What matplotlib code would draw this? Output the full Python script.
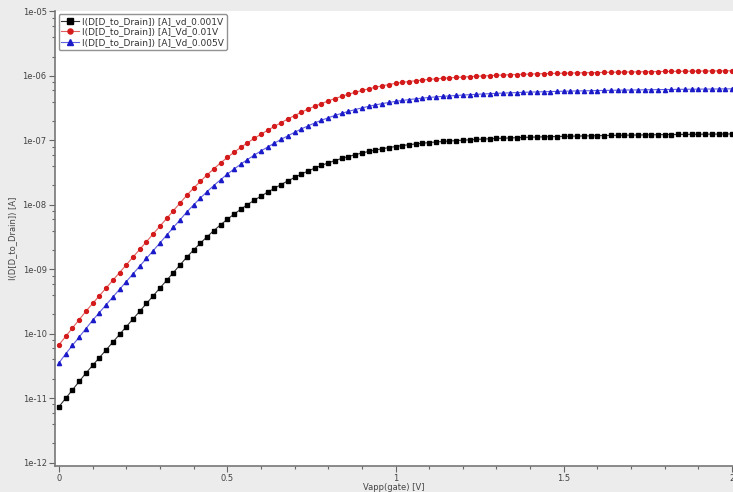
import matplotlib
matplotlib.use("Agg")
import matplotlib.pyplot as plt
import numpy as np
from matplotlib.ticker import LogLocator, MultipleLocator, FixedLocator

# gate sweep 0..2 V, 0.02 V step
vgate = [round(0.02 * i, 2) for i in range(101)]

# log10 of drain current
log_id_vd_0001 = [
    -11.13, -11.00, -10.87, -10.74, -10.61, -10.49, -10.37, -10.25, -10.13, -10.01,
    -9.89, -9.77, -9.65, -9.53, -9.41, -9.29, -9.17, -9.05, -8.93, -8.81,
    -8.70, -8.595, -8.495, -8.40, -8.31, -8.225, -8.145, -8.069, -7.997, -7.929,
    -7.865, -7.803, -7.743, -7.685, -7.629, -7.575, -7.523, -7.475, -7.430, -7.388,
    -7.349, -7.313, -7.280, -7.250, -7.222, -7.196, -7.172, -7.150, -7.130, -7.112,
    -7.095, -7.080, -7.067, -7.055, -7.044, -7.034, -7.025, -7.017, -7.010, -7.003,
    -6.997, -6.991, -6.985, -6.980, -6.975, -6.970, -6.966, -6.962, -6.958, -6.954,
    -6.951, -6.948, -6.945, -6.942, -6.940, -6.937, -6.935, -6.933, -6.931, -6.929,
    -6.927, -6.925, -6.923, -6.921, -6.920, -6.918, -6.917, -6.915, -6.914, -6.912,
    -6.911, -6.910, -6.908, -6.907, -6.906, -6.905, -6.904, -6.903, -6.902, -6.901,
    -6.900,
]
log_id_vd_001 = [
    -10.17, -10.04, -9.91, -9.78, -9.65, -9.53, -9.41, -9.29, -9.17, -9.05,
    -8.93, -8.81, -8.69, -8.57, -8.45, -8.33, -8.21, -8.09, -7.97, -7.85,
    -7.74, -7.635, -7.535, -7.44, -7.35, -7.265, -7.185, -7.109, -7.037, -6.969,
    -6.905, -6.843, -6.783, -6.725, -6.669, -6.615, -6.563, -6.515, -6.470, -6.428,
    -6.389, -6.351, -6.316, -6.284, -6.254, -6.226, -6.200, -6.176, -6.154, -6.134,
    -6.115, -6.100, -6.087, -6.075, -6.064, -6.054, -6.045, -6.037, -6.030, -6.023,
    -6.017, -6.011, -6.005, -6.000, -5.995, -5.990, -5.986, -5.982, -5.978, -5.974,
    -5.971, -5.968, -5.965, -5.962, -5.960, -5.957, -5.955, -5.953, -5.951, -5.949,
    -5.947, -5.945, -5.943, -5.941, -5.940, -5.938, -5.937, -5.935, -5.934, -5.932,
    -5.931, -5.930, -5.928, -5.927, -5.926, -5.925, -5.924, -5.923, -5.922, -5.921,
    -5.920,
]
log_id_vd_0005 = [
    -10.45, -10.31, -10.18, -10.05, -9.92, -9.79, -9.67, -9.55, -9.43, -9.31,
    -9.19, -9.07, -8.95, -8.83, -8.71, -8.59, -8.47, -8.35, -8.23, -8.11,
    -8.00, -7.895, -7.795, -7.70, -7.61, -7.525, -7.445, -7.369, -7.297, -7.229,
    -7.165, -7.103, -7.043, -6.985, -6.929, -6.875, -6.823, -6.775, -6.730, -6.688,
    -6.649, -6.613, -6.580, -6.550, -6.522, -6.496, -6.472, -6.450, -6.430, -6.412,
    -6.395, -6.380, -6.367, -6.355, -6.344, -6.334, -6.325, -6.317, -6.310, -6.303,
    -6.297, -6.291, -6.285, -6.280, -6.275, -6.270, -6.266, -6.262, -6.258, -6.254,
    -6.251, -6.248, -6.245, -6.242, -6.240, -6.237, -6.235, -6.233, -6.231, -6.229,
    -6.227, -6.225, -6.223, -6.221, -6.220, -6.218, -6.217, -6.215, -6.214, -6.212,
    -6.211, -6.210, -6.208, -6.207, -6.206, -6.205, -6.204, -6.203, -6.202, -6.201,
    -6.200,
]

labels = [
    "I(D[D_to_Drain]) [A]_vd_0.001V",
    "I(D[D_to_Drain]) [A]_Vd_0.01V",
    "I(D[D_to_Drain]) [A]_Vd_0.005V",
]
ytick_vals = [1e-12, 1e-11, 1e-10, 1e-09, 1e-08, 1e-07, 1e-06, 1e-05]
ytick_labels = ["1e-12", "1e-11", "1e-10", "1e-09", "1e-08", "1e-07", "1e-06", "1e-05"]
xtick_vals = [0, 0.5, 1, 1.5, 2]
xtick_labels = ["0", "0.5", "1", "1.5", "2"]

txt = "#444444"
fig = plt.figure(figsize=(7.33, 4.92), dpi=100)
fig.patch.set_facecolor("#ececec")
ax = fig.add_axes([0.075, 0.053, 0.925, 0.925])
ax.set_facecolor("white")

ax.plot(vgate, 10 ** np.array(log_id_vd_0001), color="#333333", lw=0.8,
        marker="s", ms=3.3, mfc="black", mec="black", label=labels[0])
ax.plot(vgate, 10 ** np.array(log_id_vd_001), color="#e06060", lw=0.8,
        marker="o", ms=2.8, mfc="#d41a1a", mec="#d41a1a", label=labels[1])
ax.plot(vgate, 10 ** np.array(log_id_vd_0005), color="#6060e0", lw=0.8,
        marker="^", ms=3.0, mfc="#1a1ac8", mec="#1a1ac8", label=labels[2])

ax.set_yscale("log")
ax.set_ylim(10 ** -12.05, 10 ** -4.99)
ax.set_xlim(-0.012, 2.003)

ax.yaxis.set_major_locator(FixedLocator(ytick_vals))
ax.set_yticklabels(ytick_labels)
ax.yaxis.set_minor_locator(LogLocator(base=10, subs=(2, 4, 6, 8)))
ax.yaxis.set_minor_formatter(plt.NullFormatter())
ax.set_xticks(xtick_vals)
ax.set_xticklabels(xtick_labels)
ax.xaxis.set_minor_locator(MultipleLocator(0.1))

ax.tick_params(axis="both", which="major", direction="out", length=4, width=0.8,
               color="#666666", labelsize=6, labelcolor=txt, pad=2)
ax.tick_params(axis="both", which="minor", direction="out", length=2.5, width=0.8,
               color="#666666")

for s in ["top", "right"]:
    ax.spines[s].set_visible(False)
for s in ["left", "bottom"]:
    ax.spines[s].set_color("#777777")
    ax.spines[s].set_linewidth(1.2)

ax.set_xlabel("Vapp(gate) [V]", fontsize=6, color=txt, labelpad=0)
ax.set_ylabel("I(D[D_to_Drain]) [A]", fontsize=6, color=txt, labelpad=4)

leg = ax.legend(loc="upper left", fontsize=6.5, frameon=True, fancybox=True,
                edgecolor="#777777", borderpad=0.3, labelspacing=0.15,
                handlelength=2.0, handletextpad=0.3, borderaxespad=0.4,
                markerscale=1.3)
for t in leg.get_texts():
    t.set_color("#333333")

fig.savefig("out.png", dpi=100, facecolor=fig.get_facecolor())
